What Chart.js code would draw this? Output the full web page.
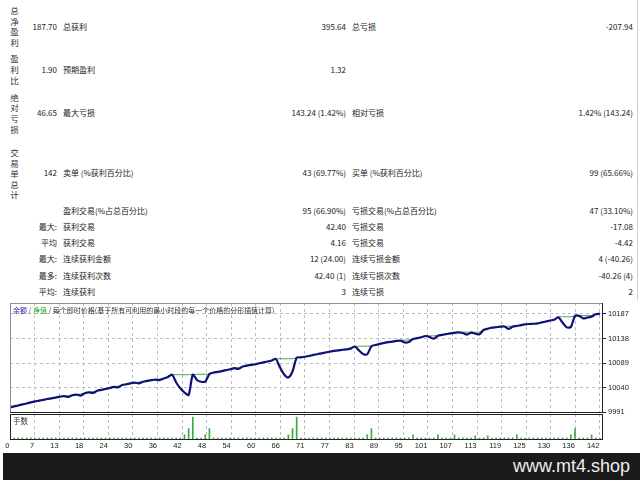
<!DOCTYPE html>
<html><head><meta charset="utf-8">
<script src="https://cdn.jsdelivr.net/npm/chart.js@4.4.0/dist/chart.umd.min.js"></script>
<style>
html,body{margin:0;padding:0;background:#fff;width:640px;height:480px;overflow:hidden;}
body{position:relative;font-family:"Noto Sans CJK SC","Liberation Sans",sans-serif;color:#222;}
.t{position:absolute;font-size:8px;line-height:10px;height:10px;white-space:nowrap;}
.vc{position:absolute;left:8px;width:13px;text-align:center;font-size:8.5px;color:#333;}
#footer{position:absolute;left:3px;top:453px;width:637px;height:27px;background:#1b1b1b;}
#footer span{position:absolute;right:10px;top:1px;color:#eee;font-family:"Liberation Sans",Arial,sans-serif;font-size:18px;line-height:24px;}
#edge{position:absolute;left:637px;top:0;width:1px;height:300px;background:#d0d0d0;}
.cw{position:absolute;left:0;width:640px;}
canvas{display:block;}
</style></head>
<body>
<div id="stats"></div>
<div id="edge"></div>
<div class="cw" style="top:296px;height:125px;"><canvas id="c1" width="640" height="125"></canvas></div>
<div class="cw" style="top:408px;height:46px;"><canvas id="c2" width="640" height="46"></canvas></div>
<div id="footer"><span>www.mt4.shop</span></div>
<script>
// ---- data ----
const tradeNo = Array.from({length: 143}, (_, i) => i);
const balance = [
10000.0,10002.3,10004.1,10006.2,10008.0,10010.2,10012.1,10013.6,10015.3,10017.0,
10018.4,10019.9,10021.6,10022.9,10021.0,10024.6,10025.8,10023.9,10028.7,10030.4,
10029.0,10033.5,10035.2,10037.1,10039.0,10041.3,10040.0,10044.8,10046.5,10048.4,
10049.7,10048.2,10051.6,10053.2,10054.6,10055.9,10054.8,10058.0,10061.0,10065.6,
10050.0,10038.5,10030.0,10025.0,10065.8,10055.0,10051.5,10051.8,10067.0,10069.8,
10071.2,10072.9,10074.8,10076.5,10078.6,10077.0,10081.9,10083.6,10085.2,10086.5,
10088.4,10090.2,10092.0,10094.1,10097.0,10080.0,10066.0,10060.0,10072.0,10099.6,
10100.4,10101.5,10103.0,10105.2,10106.5,10108.3,10110.0,10111.8,10113.4,10114.1,
10115.5,10116.3,10117.8,10122.0,10114.0,10107.0,10106.5,10122.5,10125.0,10127.3,
10129.0,10130.6,10131.8,10133.2,10133.8,10130.0,10131.0,10137.0,10138.8,10140.5,
10143.0,10141.0,10137.5,10143.6,10145.2,10146.8,10148.3,10149.4,10150.3,10149.0,
10145.8,10149.6,10147.5,10146.3,10155.0,10157.6,10159.6,10160.5,10161.6,10162.0,
10157.0,10161.6,10163.0,10164.9,10166.3,10167.0,10167.5,10168.3,10170.2,10172.0,
10174.0,10175.6,10180.3,10170.0,10160.3,10161.0,10183.0,10183.3,10178.3,10180.0,
10181.6,10186.4,10187.7];
const equity = [
10000.0,10002.3,10004.1,10006.2,10008.0,10010.2,10012.1,10013.6,10015.3,10017.0,
10018.4,10019.9,10021.6,10022.9,10023.6,10024.6,10025.8,10026.8,10028.7,10030.4,
10031.5,10033.5,10035.2,10037.1,10039.0,10041.3,10042.6,10044.8,10046.5,10048.4,
10049.7,10050.6,10051.6,10053.2,10054.6,10055.9,10056.9,10058.0,10061.0,10065.6,
10065.6,10065.6,10065.6,10065.6,10065.8,10066.4,10066.4,10066.4,10067.0,10069.8,
10071.2,10072.9,10074.8,10076.5,10078.6,10080.0,10081.9,10083.6,10085.2,10086.5,
10088.4,10090.2,10092.0,10094.1,10097.0,10097.5,10097.5,10097.5,10097.5,10099.6,
10100.4,10101.5,10103.0,10105.2,10106.5,10108.3,10110.0,10111.8,10113.4,10114.1,
10115.5,10116.3,10117.8,10122.0,10122.6,10122.6,10122.6,10122.8,10125.0,10127.3,
10129.0,10130.6,10131.8,10133.2,10134.0,10134.6,10135.4,10137.0,10138.8,10140.5,
10143.0,10143.4,10143.4,10143.6,10145.2,10146.8,10148.3,10149.4,10150.3,10150.6,
10150.6,10150.6,10150.6,10150.6,10155.0,10157.6,10159.6,10160.5,10161.6,10162.0,
10162.6,10162.8,10163.0,10164.9,10166.3,10167.0,10167.5,10168.3,10170.2,10172.0,
10174.0,10175.6,10181.5,10181.5,10181.5,10181.5,10183.0,10183.5,10184.0,10184.0,
10184.0,10186.4,10187.7];
const lots = [
0.01,0.01,0.01,0.01,0.01,0.01,0.01,0.01,0.01,0.01,
0.01,0.01,0.01,0.01,0.01,0.01,0.01,0.01,0.01,0.01,
0.01,0.01,0.01,0.01,0.01,0.01,0.01,0.01,0.01,0.01,
0.01,0.01,0.01,0.01,0.01,0.01,0.01,0.01,0.01,0.01,
0.01,0.01,0.04,0.10,0.21,0.01,0.01,0.04,0.10,0.01,
0.01,0.01,0.01,0.01,0.01,0.01,0.01,0.01,0.01,0.01,
0.01,0.01,0.01,0.01,0.01,0.01,0.01,0.04,0.10,0.21,
0.01,0.01,0.01,0.01,0.01,0.01,0.01,0.01,0.01,0.01,
0.01,0.01,0.01,0.01,0.01,0.01,0.04,0.10,0.01,0.01,
0.01,0.01,0.01,0.01,0.01,0.01,0.01,0.04,0.01,0.01,
0.01,0.01,0.01,0.04,0.01,0.01,0.01,0.04,0.01,0.01,
0.01,0.01,0.03,0.01,0.01,0.03,0.01,0.01,0.01,0.01,
0.01,0.01,0.04,0.01,0.01,0.01,0.01,0.01,0.01,0.01,
0.01,0.01,0.01,0.01,0.01,0.04,0.10,0.01,0.01,0.01,
0.04,0.01,0.01];
const xTickLabels = [0,7,13,18,24,30,36,42,48,54,60,66,71,77,83,89,95,101,107,113,119,125,130,136,142];
const yTickLabels = [9991,10040,10089,10138,10187];

// ---- stats table ----
const statRows = [
  [26.7, "", "187.70", "总获利", "395.64", "总亏损", "-207.94"],
  [70, "", "1.90", "预期盈利", "1.32", "", ""],
  [113, "", "46.65", "最大亏损", "143.24 (1.42%)", "相对亏损", "1.42% (143.24)"],
  [172.7, "", "142", "卖单 (%获利百分比)", "43 (69.77%)", "买单 (%获利百分比)", "99 (65.66%)"],
  [210.7, "", "", "盈利交易(%占总百分比)", "95 (66.90%)", "亏损交易(%占总百分比)", "47 (33.10%)"],
  [227.3, "最大:", "", "获利交易", "42.40", "亏损交易", "-17.08"],
  [243.3, "平均 ", "", "获利交易", "4.16", "亏损交易", "-4.42"],
  [259.3, "最大:", "", "连续获利金额", "12 (24.00)", "连续亏损金额", "4 (-40.26)"],
  [275.7, "最多:", "", "连续获利次数", "42.40 (1)", "连续亏损次数", "-40.26 (4)"],
  [291.7, "平均:", "", "连续获利", "3", "连续亏损", "2"]
];
const vertLabels = [["总净盈利", 10], ["盈利比", 58.3], ["绝对亏损", 96.7], ["交易单总计", 152]];
const stats = document.getElementById('stats');
function addText(txt, y, x, right) {
  if (!txt) return;
  const d = document.createElement('div');
  d.className = 't';
  d.textContent = txt;
  d.style.top = (y - 5) + 'px';
  if (right) { d.style.right = (640 - x) + 'px'; d.style.textAlign = 'right'; }
  else d.style.left = x + 'px';
  stats.appendChild(d);
}
statRows.forEach(r => {
  const [y, pre, v1, l1, v2, l2, v3] = r;
  addText(pre, y, 57, true);
  addText(v1, y, 57, true);
  addText(l1, y, 63, false);
  addText(v2, y, 346, true);
  addText(l2, y, 352, false);
  addText(v3, y, 633, true);
});
vertLabels.forEach(([txt, y0]) => {
  [...txt].forEach((ch, i) => {
    const d = document.createElement('div');
    d.className = 'vc';
    d.textContent = ch;
    d.style.top = (y0 + i * 10.6 - 6) + 'px';
    d.style.lineHeight = '12px';
    stats.appendChild(d);
  });
});

// ---- charts ----
const GRID = '#bdbdbd';
const AXFONT = {size: 7.5, family: '"Liberation Sans", sans-serif'};
const frame1 = {
  id: 'frame1',
  afterDraw(chart) {
    const {ctx, chartArea: a} = chart;
    ctx.save();
    ctx.lineWidth = 1;
    ctx.strokeStyle = '#8c8c8c';
    ctx.beginPath();
    ctx.moveTo(a.left + 0.5, a.bottom); ctx.lineTo(a.left + 0.5, a.top + 0.5); ctx.lineTo(a.right, a.top + 0.5);
    ctx.stroke();
    ctx.strokeStyle = '#222';
    ctx.beginPath();
    ctx.moveTo(a.right + 0.5, a.top); ctx.lineTo(a.right + 0.5, a.bottom + 0.5); ctx.lineTo(a.left, a.bottom + 0.5);
    ctx.stroke();
    ctx.font = '7px "Noto Sans CJK SC"';
    ctx.textBaseline = 'middle';
    let x = a.left + 3; const y = a.top + 7;
    const parts = [['余额', '#1a1aa0'], [' / ', '#444'], ['净值', '#22aa22'], [' / 每个即时价格(基于所有可利用的最小时段的每一个价格的分形插值计算)', '#333']];
    parts.forEach(([s, c]) => { ctx.fillStyle = c; ctx.fillText(s, x, y); x += ctx.measureText(s).width; });
    ctx.restore();
  }
};
const frame2 = {
  id: 'frame2',
  afterDraw(chart) {
    const {ctx, chartArea: a} = chart;
    ctx.save();
    ctx.lineWidth = 1;
    ctx.strokeStyle = '#222';
    ctx.strokeRect(a.left + 0.5, a.top + 0.5, a.right - a.left, a.bottom - a.top);
    ctx.font = '7.5px "Noto Sans CJK SC"';
    ctx.fillStyle = '#333';
    ctx.textBaseline = 'middle';
    ctx.fillText('手数', a.left + 3, a.top + 7);
    ctx.restore();
  }
};
const xTicksBuild = s => { s.ticks = xTickLabels.map((l, k) => ({value: k * 142 / 24})); };

new Chart(document.getElementById('c1'), {
  type: 'line',
  data: {datasets: [
    {label: '净值', data: tradeNo.map((t, i) => ({x: t, y: equity[i]})), borderColor: '#44a844', borderWidth: 1, pointRadius: 0, tension: 0, order: 2},
    {label: '余额', data: tradeNo.map((t, i) => ({x: t, y: balance[i]})), borderColor: '#10107a', borderWidth: 2.2, pointRadius: 0, tension: 0.25, order: 1}
  ]},
  options: {
    responsive: false, animation: false,
    layout: {padding: {left: 10, top: 7, bottom: 9, right: 0}},
    plugins: {legend: {display: false}, tooltip: {enabled: false}},
    scales: {
      x: {type: 'linear', min: 0, max: 142.5, offset: false, afterBuildTicks: xTicksBuild,
          ticks: {display: false}, grid: {color: GRID, drawTicks: false, offset: false}, border: {display: false, dash: [3, 3]},
          afterFit: s => { s.height = 0; }},
      y: {position: 'right', min: 9991, max: 10209,
          afterBuildTicks: s => { s.ticks = yTickLabels.map(v => ({value: v})); },
          ticks: {color: '#222', font: AXFONT, padding: 2, callback: v => String(v)},
          grid: {color: GRID, tickLength: 4, tickColor: '#222', tickBorderDash: []}, border: {display: false, dash: [3, 3]},
          afterFit: s => { s.width = 38; }}
    }
  },
  plugins: [frame1]
});

new Chart(document.getElementById('c2'), {
  type: 'bar',
  data: {datasets: [{data: tradeNo.map((t, i) => ({x: t, y: lots[i]})), backgroundColor: '#3fa83f', barThickness: 1}]},
  options: {
    responsive: false, animation: false,
    layout: {padding: {left: 10, top: 6, bottom: 0, right: 0}},
    plugins: {legend: {display: false}, tooltip: {enabled: false}},
    scales: {
      x: {type: 'linear', min: 0, max: 142.5, offset: false, afterBuildTicks: xTicksBuild,
          ticks: {align: 'end', autoSkip: false, maxRotation: 0, padding: 2, color: '#222', font: AXFONT,
                  labelOffset: c => (c.index === 0 ? 4.5 : -0.5),
                  callback: (v, i) => String(xTickLabels[i])},
          grid: {color: GRID, drawTicks: false, offset: false}, border: {display: false, dash: [3, 3]},
          afterFit: s => { s.height = 15; }},
      y: {position: 'right', min: 0, max: 0.24, ticks: {display: false}, grid: {display: false}, border: {display: false},
          afterFit: s => { s.width = 38; }}
    }
  },
  plugins: [frame2]
});
</script>
</body></html>
